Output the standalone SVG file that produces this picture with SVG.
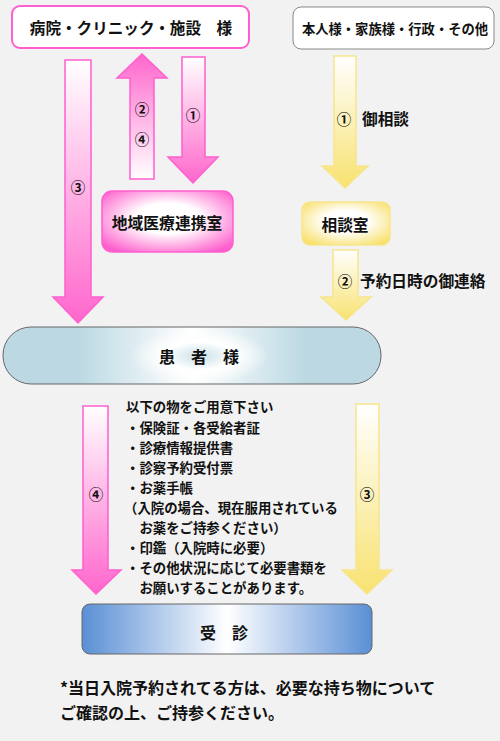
<svg xmlns="http://www.w3.org/2000/svg" width="500" height="741" viewBox="0 0 500 741">
<style>
text{font-family:"Noto Sans CJK JP","Noto Sans CJK SC",sans-serif;font-weight:bold;fill:#111;dominant-baseline:central}
.c{text-anchor:middle}
.num{font-size:14.5px;font-weight:bold;text-anchor:middle}
.lst{font-size:13.4px}
.pa{stroke:#ff5fcf;stroke-width:1.5}
.ya{stroke:#f7e58c;stroke-width:1.5}
</style>
<defs>
<linearGradient id="pd" x1="0" y1="0" x2="0" y2="1"><stop offset="0" stop-color="#ffffff"/><stop offset="1" stop-color="#ff66cc"/></linearGradient>
<linearGradient id="pu" x1="0" y1="1" x2="0" y2="0"><stop offset="0" stop-color="#ffffff"/><stop offset="1" stop-color="#ff66cc"/></linearGradient>
<linearGradient id="yd" x1="0" y1="0" x2="0" y2="1"><stop offset="0" stop-color="#ffffff"/><stop offset="1" stop-color="#f8e270"/></linearGradient>
<radialGradient id="pr" cx="0.5" cy="0.45" r="0.65"><stop offset="0" stop-color="#ffffff"/><stop offset="0.38" stop-color="#ffffff"/><stop offset="1" stop-color="#ff5fcc"/></radialGradient>
<radialGradient id="yr" cx="0.5" cy="0.45" r="0.65"><stop offset="0" stop-color="#ffffff"/><stop offset="0.38" stop-color="#ffffff"/><stop offset="1" stop-color="#f8e06a"/></radialGradient>
<linearGradient id="bl" x1="0" y1="0" x2="1" y2="0"><stop offset="0" stop-color="#bcd9e3"/><stop offset="0.2" stop-color="#bcd9e3"/><stop offset="0.5" stop-color="#ffffff"/><stop offset="0.8" stop-color="#bcd9e3"/><stop offset="1" stop-color="#bcd9e3"/></linearGradient>
<radialGradient id="bc" cx="0.52" cy="0.5" r="0.5"><stop offset="0" stop-color="#c9e0e8"/><stop offset="0.5" stop-color="#ffffff" stop-opacity="1"/><stop offset="1" stop-color="#ffffff" stop-opacity="0"/></radialGradient>
<linearGradient id="jb" x1="0" y1="0" x2="1" y2="0"><stop offset="0" stop-color="#5a8fd5"/><stop offset="0.5" stop-color="#ffffff"/><stop offset="1" stop-color="#5a8fd5"/></linearGradient>
</defs>
<rect x="0" y="0" width="500" height="741" fill="#f2f2f2"/>
<g id="connectors">
<path id="a-l3" class="pa" fill="url(#pd)" d="M65,60 H91 V297 H103 L78,323 L53,297 H65 Z"/>
<path id="a-up24" class="pa" fill="url(#pu)" d="M130,179 H154 V78 H167 L142,54 L117,78 H130 Z"/>
<path id="a-d1" class="pa" fill="url(#pd)" d="M182,57 H205 V157 H218 L193,183 L168,157 H182 Z"/>
<path id="a-y1" class="ya" fill="url(#yd)" d="M334,56 H356 V166 H368 L345,188 L322,166 H334 Z"/>
<path id="a-y2" class="ya" fill="url(#yd)" d="M333,250 H358 V297 H371 L346,320 L321,297 H333 Z"/>
<path id="a-p4" class="pa" fill="url(#pd)" d="M83,406 H108 V570 H121 L96,594 L72,570 H83 Z"/>
<path id="a-y3" class="ya" fill="url(#yd)" d="M356,404 H379 V570 H392 L367,594 L342,570 H356 Z"/>
<text class="num" x="78" y="186">③</text>
<text class="num" x="142" y="108">②</text>
<text class="num" x="142" y="138">④</text>
<text class="num" x="193" y="114">①</text>
<text class="num" x="344" y="118">①</text>
<text x="362" y="118" font-size="15.7">御相談</text>
<text class="num" x="345" y="280">②</text>
<text x="360" y="280" font-size="15.7">予約日時の御連絡</text>
<text class="num" x="96" y="493">④</text>
<text class="num" x="367" y="493">③</text>
</g>
<g id="hospital">
<rect x="12" y="6" width="237" height="42" rx="8" fill="#ffffff" stroke="#ff5fcf" stroke-width="2"/>
<text class="c" x="131" y="27" font-size="15.6">病院・クリニック・施設　様</text>
</g>
<g id="family">
<rect x="293" y="7" width="201" height="42" rx="8" fill="#ffffff" stroke="#888888" stroke-width="1"/>
<text class="c" x="395" y="28" font-size="13.3">本人様・家族様・行政・その他</text>
</g>
<g id="renkei">
<rect x="102" y="191" width="131" height="61" rx="10" fill="url(#pr)" stroke="#ff5fcf" stroke-width="1.5"/>
<text class="c" x="167" y="222" font-size="15.8">地域医療連携室</text>
</g>
<g id="soudan">
<rect x="302" y="202" width="88" height="43" rx="8" fill="url(#yr)" stroke="#f7e58c" stroke-width="1.5"/>
<text class="c" x="345" y="224" font-size="15.7">相談室</text>
</g>
<g id="patient">
<rect x="3" y="327" width="378" height="57" rx="28" fill="url(#bl)" stroke="#666666" stroke-width="1"/>
<ellipse cx="197" cy="356" rx="70" ry="28" fill="url(#bc)"/>
<text class="c" x="199" y="356" font-size="16">患　者　様</text>
</g>
<g id="items">
<text class="lst" x="126" y="406">以下の物をご用意下さい</text>
<text class="lst" x="126" y="427">・保険証・各受給者証</text>
<text class="lst" x="126" y="447">・診療情報提供書</text>
<text class="lst" x="126" y="467">・診察予約受付票</text>
<text class="lst" x="126" y="487">・お薬手帳</text>
<text class="lst" x="124" y="507">（入院の場合、現在服用されている</text>
<text class="lst" x="126" y="527">　お薬をご持参ください）</text>
<text class="lst" x="126" y="547">・印鑑（入院時に必要）</text>
<text class="lst" x="126" y="567">・その他状況に応じて必要書類を</text>
<text class="lst" x="126" y="587">　お願いすることがあります。</text>
</g>
<g id="jushin">
<rect x="82" y="604" width="290" height="50" rx="8" fill="url(#jb)" stroke="#666666" stroke-width="1"/>
<text class="c" x="224" y="632" font-size="16">受　診</text>
</g>
<g id="note">
<text x="60" y="687" font-size="16">*当日入院予約されてる方は、必要な持ち物について</text>
<text x="60" y="712" font-size="16">ご確認の上、ご持参ください。</text>
</g>
</svg>
